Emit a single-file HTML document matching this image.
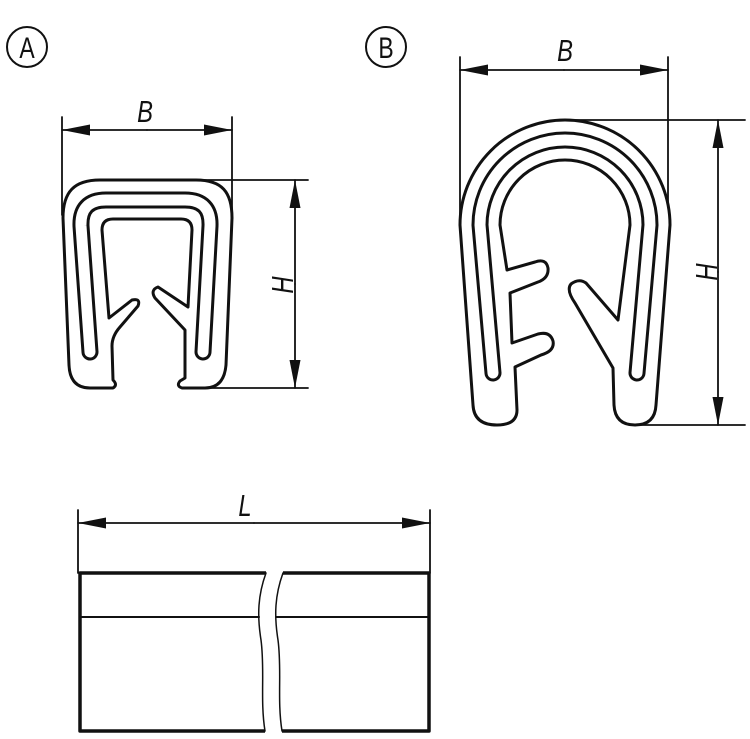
<!DOCTYPE html>
<html><head><meta charset="utf-8"><style>
html,body{margin:0;padding:0;background:#fff;}
svg{display:block;}
text{font-family:"Liberation Sans",sans-serif;}
</style></head><body>
<svg width="750" height="739" viewBox="0 0 750 739" xmlns="http://www.w3.org/2000/svg">
<defs>
<marker id="ar" markerWidth="28" markerHeight="12" refX="28" refY="6" orient="auto" markerUnits="userSpaceOnUse">
<path d="M0,0.5 L28,6 L0,11.5 Z" fill="#111"/>
</marker>
</defs>
<g fill="none" stroke="#111" stroke-linecap="round" stroke-linejoin="round">
<circle cx="27" cy="47" r="20" stroke-width="2"/>
<circle cx="386" cy="47" r="20" stroke-width="2"/>

<!-- ===== A ===== -->
<line x1="62" y1="117" x2="62" y2="215" stroke-width="1.8"/>
<line x1="232" y1="117" x2="232" y2="215" stroke-width="1.8"/>
<line x1="147" y1="130" x2="62" y2="130" stroke-width="1.8" marker-end="url(#ar)"/>
<line x1="147" y1="130" x2="232" y2="130" stroke-width="1.8" marker-end="url(#ar)"/>
<line x1="198" y1="180" x2="308" y2="180" stroke-width="1.8"/>
<line x1="190" y1="388" x2="308" y2="388" stroke-width="1.8"/>
<line x1="295" y1="284" x2="295" y2="180" stroke-width="1.8" marker-end="url(#ar)"/>
<line x1="295" y1="284" x2="295" y2="388" stroke-width="1.8" marker-end="url(#ar)"/>
<path stroke-width="3" fill="#fff" d="M113 388 L90 388 Q70 388 69 365 L63 218 C63 192 74 180 100 180 L196 180 C222 180 232 192 232 218 L226 365 Q224 388 205 388 L182 388 Q176 386 180 381 L185 378 L185 330 L155 298 Q150 290 158 287 L188 307 L192 230 Q192 219 181 219 L113 219 Q102 219 102 230 L109 318 L132 300 Q141 298 138 306 L120 327 Q112 336 112 346 L113 380 Q118 385 113 388 Z"/>
<path stroke-width="17" d="M90 352 L81 226 Q80 200 106 200 L185 200 Q211 200 210 226 L203 352"/>
<path stroke="#fff" stroke-width="11" d="M90 352 L81 226 Q80 200 106 200 L185 200 Q211 200 210 226 L203 352"/>

<!-- ===== B ===== -->
<line x1="460" y1="57" x2="460" y2="225" stroke-width="1.8"/>
<line x1="668" y1="57" x2="668" y2="225" stroke-width="1.8"/>
<line x1="564" y1="70" x2="460" y2="70" stroke-width="1.8" marker-end="url(#ar)"/>
<line x1="564" y1="70" x2="668" y2="70" stroke-width="1.8" marker-end="url(#ar)"/>
<line x1="565" y1="120" x2="745" y2="120" stroke-width="1.8"/>
<line x1="635" y1="425" x2="745" y2="425" stroke-width="1.8"/>
<line x1="718" y1="272" x2="718" y2="120" stroke-width="1.8" marker-end="url(#ar)"/>
<line x1="718" y1="272" x2="718" y2="425" stroke-width="1.8" marker-end="url(#ar)"/>
<path stroke-width="3" fill="#fff" d="M517 410 Q517 425 497 425 Q474 425 473 405 L460 225 A105 105 0 0 1 670 225 L656 405 Q655 425 635 425 Q615 425 614 405 L613 368 L575 303 Q566 290 571 284 Q579 278 586 283 L618 320 L630 225 A65 65 0 0 0 500 225 L507 270 L535 262 Q546 258 548 268 Q549 278 538 282 L510 293 L512 343 L538 334 Q550 331 553 341 Q555 351 541 355 L515 367 Z"/>
<path stroke-width="17" d="M493 373 L480 225 A85 85 0 0 1 650 225 L637 373"/>
<path stroke="#fff" stroke-width="11" d="M493 373 L480 225 A85 85 0 0 1 650 225 L637 373"/>

<!-- ===== L bar ===== -->
<line x1="78" y1="510" x2="78" y2="573" stroke-width="1.8"/>
<line x1="430" y1="510" x2="430" y2="573" stroke-width="1.8"/>
<line x1="254" y1="523" x2="78" y2="523" stroke-width="1.8" marker-end="url(#ar)"/>
<line x1="254" y1="523" x2="430" y2="523" stroke-width="1.8" marker-end="url(#ar)"/>
<path stroke-width="3.5" stroke-linecap="butt" d="M266 573 L80 573 L80 731 L265 731"/>
<path stroke-width="3.5" stroke-linecap="butt" d="M283 573 L429 573 L429 731 L282 731"/>
<line x1="80" y1="617" x2="259" y2="617" stroke-width="2"/>
<line x1="276" y1="617" x2="429" y2="617" stroke-width="2"/>
<path stroke-width="1.5" d="M266 573 C258 595 257 615 261 640 C265 670 260 700 265 731"/>
<path stroke-width="1.5" d="M283 573 C275 595 274 615 278 640 C282 670 277 700 282 731"/>
</g>
<g fill="#111">
<text transform="translate(27,58) scale(0.85,1.1)" text-anchor="middle" font-size="27">A</text>
<text transform="translate(386,58) scale(0.85,1.1)" text-anchor="middle" font-size="27">B</text>
<text transform="translate(145,122) scale(0.85,1.1)" text-anchor="middle" font-style="italic" font-size="28">B</text>
<text transform="translate(565,61) scale(0.85,1.1)" text-anchor="middle" font-style="italic" font-size="28">B</text>
<text transform="translate(245,516) scale(0.85,1.1)" text-anchor="middle" font-style="italic" font-size="28">L</text>
<text transform="translate(293,285) rotate(-90) scale(0.85,1.1)" text-anchor="middle" font-style="italic" font-size="28">H</text>
<text transform="translate(717,272) rotate(-90) scale(0.85,1.1)" text-anchor="middle" font-style="italic" font-size="28">H</text>
</g>
</svg>
</body></html>
